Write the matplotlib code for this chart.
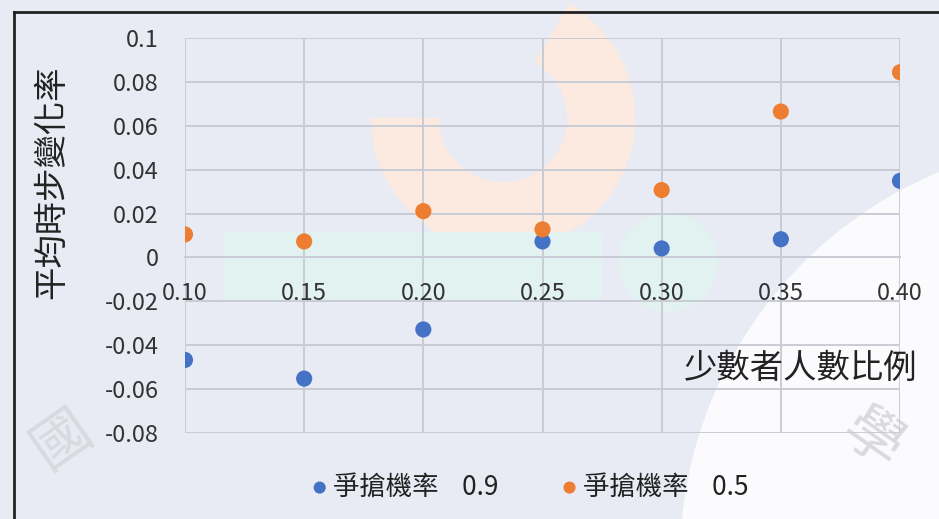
import numpy as np
import matplotlib.pyplot as plt
from matplotlib.patches import Wedge, FancyBboxPatch, Circle
from matplotlib.lines import Line2D

plt.rcParams['font.family'] = ['Noto Sans CJK TC', 'DejaVu Sans']

# 少數者人數比例
ratio = [0.10, 0.15, 0.20, 0.25, 0.30, 0.35, 0.40]
# 平均時步變化率
p09 = [-0.0467, -0.0552, -0.0328, 0.0073, 0.0041, 0.0083, 0.0349]
p05 = [0.0105, 0.0073, 0.0211, 0.0128, 0.0307, 0.0665, 0.0844]
series_names = ['爭搶機率    0.9', '爭搶機率    0.5']
colors = ['#4472C4', '#ED7D31']
yticks = [-0.08, -0.06, -0.04, -0.02, 0, 0.02, 0.04, 0.06, 0.08, 0.1]
ytick_labels = ['-0.08', '-0.06', '-0.04', '-0.02', '0', '0.02', '0.04', '0.06', '0.08', '0.1']

W, H = 939, 519
fig = plt.figure(figsize=(W / 100, H / 100), dpi=100, facecolor='#E8EBF4')

# 背景浮水印 (淡色)
bg = fig.add_axes([0, 0, 1, 1], zorder=-5)
bg.set_xlim(0, W)
bg.set_ylim(H, 0)
bg.axis('off')
bg.add_patch(Circle((1100, 560), 420, color='white', alpha=0.85, lw=0))
bg.add_patch(Wedge((503, 118), 132, -60, 180, width=68, color='#FCEAE0', lw=0))
bg.add_patch(FancyBboxPatch((225, 234), 375, 64, boxstyle='round,pad=2', color='#E2F2F0', lw=0))
bg.add_patch(Circle((668, 262), 50, color='#E2F2F0', lw=0))
for ch, x, y, rot in [('國', 62, 440, 35), ('學', 872, 440, -35)]:
    bg.text(x, y, ch, fontsize=42, color='#D9DADF', rotation=rot, ha='center', va='center')
# 外框線
fig.add_artist(Line2D([14 / W, 14 / W], [0, 1 - 12 / H], color='#222222', lw=2))
fig.add_artist(Line2D([14 / W, 1], [1 - 12 / H, 1 - 12 / H], color='#222222', lw=2))

ax = fig.add_axes([185 / W, 1 - 433 / H, (900 - 185) / W, (433 - 38) / H])
ax.set_facecolor('none')
ax.set_xlim(0.10, 0.40)
ax.set_ylim(-0.08, 0.1)

ax.scatter(ratio, p09, s=135, color=colors[0], zorder=3, label=series_names[0], edgecolors='none')
ax.scatter(ratio, p05, s=135, color=colors[1], zorder=3, label=series_names[1], edgecolors='none')

ax.set_xticks(ratio)
ax.set_xticklabels([f'{r:.2f}' for r in ratio])
ax.set_yticks(yticks)
ax.set_yticklabels(ytick_labels)
ax.grid(True, color='#C9CCD4', lw=1.4)
ax.set_axisbelow(True)
for sp in ['left', 'right', 'top']:
    ax.spines[sp].set_visible(False)
ax.spines['bottom'].set_position(('data', 0))
ax.spines['bottom'].set_color('#C9CCD4')
ax.spines['bottom'].set_linewidth(1.4)
ax.tick_params(axis='both', length=0, labelsize=17, colors='#333333')
ax.tick_params(axis='x', pad=18)
ax.tick_params(axis='y', pad=19)

fig.text(52 / W, 1 - 182 / H, '平均時步變化率', fontsize=24, color='#222222',
         rotation=90, ha='center', va='center')
fig.text(917 / W, 1 - 368 / H, '少數者人數比例', fontsize=24, color='#222222',
         ha='right', va='center')

ax.legend(loc='center', bbox_to_anchor=((530 - 185) / 715, (433 - 487) / 395), ncol=2,
          frameon=False, fontsize=19, handlelength=0.6, handletextpad=0.2,
          columnspacing=2.4, markerscale=0.75, labelcolor='#222222')

fig.savefig('out.png', dpi=100, facecolor=fig.get_facecolor())
